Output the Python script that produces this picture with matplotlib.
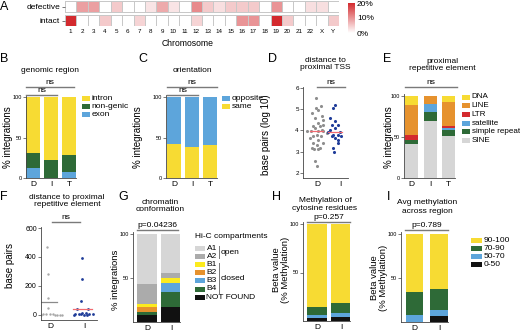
import numpy as np
import matplotlib
matplotlib.use("Agg")
import matplotlib.pyplot as plt
from matplotlib.colors import LinearSegmentedColormap
from matplotlib.patches import Rectangle
from matplotlib.lines import Line2D

plt.rcParams['font.family'] = ['Liberation Sans', 'DejaVu Sans']
plt.rcParams['axes.linewidth'] = 0.6

W, H = 520, 333

# ---- data ----
chromosomes = ['1', '2', '3', '4', '5', '6', '7', '8', '9', '10', '11', '12',
               '13', '14', '15', '16', '17', '18', '19', '20', '21', '22', 'X', 'Y']
defective_pct = [0, 9, 9, 0, 5, 0, 0, 2.5, 8, 2.5, 0, 11,
                 5, 3, 5, 5, 5, 0, 10, 0, 0, 3, 3, 0]
intact_pct = [20, 0, 0, 5, 0, 0, 4, 0, 0, 0, 0, 4,
              0, 0, 0, 10, 10, 0, 20, 5, 0, 0, 0, 5]

groups3 = ['D', 'I', 'T']
groups2 = ['D', 'I']

# B genomic region (bottom -> top)
exon = [12, 0, 8]
non_genic = [19, 22, 20]
intron = [69, 78, 72]

# C orientation
same = [42, 38, 41]
opposite = [58, 62, 59]

# D distance to TSS (log10 bp), x jitter
tss_d = [5.55, 5.15, 5.05, 4.98, 4.82, 4.67, 4.6, 4.5, 4.35, 4.27, 4.2, 4.2, 4.12,
         4.04, 3.96, 3.96, 3.96, 3.96, 3.88, 3.8, 3.73, 3.73, 3.65, 3.57, 3.41,
         3.41, 3.33, 3.18, 3.18, 3.13, 3.13, 2.55, 2.31]
tss_d_jit = [-0.04, 0.16, -0.04, 0.06, -0.2, 0.2, -0.09, 0.28, 0.03, 0.28, -0.19, 0.14, -0.09,
             0.2, -0.42, -0.26, 0.06, 0.28, 0.42, -0.01, -0.16, 0.17, -0.3, 0.06, -0.16,
             0.28, -0.01, -0.23, 0.13, -0.13, 0.03, -0.09, -0.01]
tss_i = [5.2, 5.05, 4.59, 4.43, 4.27, 4.27, 4.12, 4.04, 3.93, 3.93, 3.8, 3.8,
         3.73, 3.73, 3.65, 3.57, 3.41, 3.18, 2.97]
tss_i_jit = [-0.22, -0.29, -0.43, -0.22, -0.36, -0.07, -0.22, -0.43, -0.51, 0.0, -0.29, -0.07,
             -0.36, 0.04, -0.22, -0.07, -0.07, -0.32, -0.26]
tss_median = [3.98, 3.91]

# E proximal repetitive element (bottom -> top)
sine = [42, 70, 51]
simple_repeat = [4, 10, 7]
satellite = [0, 10, 3]
ltr = [6, 0, 3]
line_el = [37, 10, 29]
dna = [11, 0, 7]

# F distance to repetitive element (bp)
rep_d = [471, 283, 120, 50, 8, 6, 5, 4, 3, 3, 2, 2, 1, 1, 0]
rep_d_jit = [-0.09, -0.06, -0.06, -0.06, -0.4, -0.3, -0.2, -0.1, 0.0, 0.1, 0.2, 0.3, -0.25, 0.15, 0.35]
rep_i = [395, 246, 97, 41, 41, 14, 10, 8, 6, 5, 4, 3, 2, 1, 0]
rep_i_jit = [-0.05, -0.07, -0.08, -0.2, 0.12, -0.05, 0.05, -0.15, 0.15, -0.25, 0.25, -0.1, 0.1, 0.0, -0.3]
rep_line = [90, 41]

# G Hi-C compartments (bottom -> top)
not_found = [8, 17]
b4 = [3.5, 17]
b3 = [0, 10]
b2 = [6, 0]
b1 = [3, 6]
a2 = [23, 6]
a1 = [56.5, 44]

# H methylation of cytosine residues
h_0_50 = [3, 4]
h_50_70 = [3.5, 4.5]
h_70_90 = [8, 10]
h_90_100 = [85.5, 81.5]

# I avg methylation across region
i_0_50 = [0, 6.5]
i_50_70 = [7.6, 7]
i_70_90 = [26.7, 24.5]
i_90_100 = [65.7, 62]

YEL = '#F7DB33'
GRN = '#2E6A37'
BLU = '#5DA5DB'
ORA = '#E6922E'
RED = '#D42A2E'
LGR = '#D6D6D6'
BLK = '#111111'

fig = plt.figure(figsize=(5.2, 3.33), dpi=100)


def add_ax(x0, x1, ytop, ybot):
    return fig.add_axes([x0 / W, 1 - ybot / H, (x1 - x0) / W, (ybot - ytop) / H])


def ftext(x, y, s, **kw):
    fig.text(x / W, 1 - y / H, s, **kw)


def bracket(x0, x1, y, label, fs=6):
    fig.add_artist(Line2D([x0 / W, x1 / W], [1 - y / H, 1 - y / H], transform=fig.transFigure,
                          color='#7a7a7a', lw=1.0))
    ftext((x0 + x1) / 2, y - 0.8, label, ha='center', va='bottom', fontsize=fs)


def legend(x, y0, dy, labels, colors, bw=8, bh=5, fs=6):
    for i, (lab, c) in enumerate(zip(labels, colors)):
        y = y0 + i * dy
        fig.add_artist(Rectangle((x / W, 1 - (y + bh / 2) / H), bw / W, bh / H,
                                 transform=fig.transFigure, facecolor=c, edgecolor='none'))
        ftext(x + bw + 1.5, y, lab, ha='left', va='center', fontsize=fs)


def style(ax, ylabsize=4):
    for s in ['top', 'right']:
        ax.spines[s].set_visible(False)
    for s in ['left', 'bottom']:
        ax.spines[s].set_color('#444444')
    ax.tick_params(axis='y', length=2, width=0.5, pad=1, labelsize=ylabsize, colors='#444444',
                   labelcolor='black')
    ax.tick_params(axis='x', length=0, pad=2.5, labelsize=6)


def stacked(ax, cats, layers, colors, width):
    x = np.arange(len(cats))
    bottom = np.zeros(len(cats))
    for vals, c in zip(layers, colors):
        ax.bar(x, vals, width, bottom=bottom, color=c, edgecolor='none')
        bottom += np.array(vals)
    ax.set_xticks(x)
    ax.set_xticklabels(cats)


def bar_axes(x0, x1, y100, y0, xl, ticks):
    scale = (y0 - y100) / 100.0
    ax = add_ax(x0, x1, y0 - 102 * scale, y0)
    ax.set_ylim(0, 102)
    ax.set_xlim(*xl)
    ax.set_yticks(ticks)
    style(ax)
    return ax


# ---- A heatmap ----
cmap = LinearSegmentedColormap.from_list('wr', ['#ffffff', '#D32A2E'])
ax_a = add_ax(65, 339, 1, 26)
cols = np.arange(len(chromosomes) + 1)
mesh = ax_a.pcolormesh(cols, [0, 11], [intact_pct], cmap=cmap, vmin=0, vmax=20,
                       edgecolors='#C8C8C8', linewidth=0.6)
ax_a.pcolormesh(cols, [14, 25], [defective_pct], cmap=cmap, vmin=0, vmax=20,
                edgecolors='#C8C8C8', linewidth=0.6)
ax_a.set_xlim(0, len(chromosomes))
ax_a.set_ylim(0, 25)
ax_a.set_xticks(np.arange(len(chromosomes)) + 0.5)
ax_a.set_xticklabels(chromosomes)
ax_a.set_yticks([5.5, 19.5])
ax_a.set_yticklabels(['intact', 'defective'])
for s in ax_a.spines.values():
    s.set_visible(False)
ax_a.tick_params(axis='x', length=0, pad=2, labelsize=4.5)
ax_a.tick_params(axis='y', length=2, width=0.5, pad=1.5, labelsize=6, colors='#444444',
                 labelcolor='black')
ftext(188, 43, 'Chromosome', ha='center', va='center', fontsize=6.2)

cax = add_ax(348, 355, 3, 33)
cb = fig.colorbar(mesh, cax=cax, ticks=[0, 10, 20])
cb.outline.set_visible(False)
cb.ax.set_yticklabels(['0%', '10%', '20%'])
cb.ax.tick_params(length=0, pad=1.5, labelsize=6)

# ---- B ----
ax_b = bar_axes(26, 76, 97, 178, (-0.39, 2.38), [0, 50, 100])
stacked(ax_b, groups3, [exon, non_genic, intron], [BLU, GRN, YEL], 0.77)
ftext(8, 137, '% integrations', rotation=90, ha='center', va='center', fontsize=7)
ftext(50, 70, 'genomic region', ha='center', va='center', fontsize=6)
bracket(26, 74, 87, 'ns')
bracket(26, 57, 95, 'ns')
legend(82, 98, 8.3, ['intron', 'non-genic', 'exon'], [YEL, GRN, BLU])

# ---- C ----
ax_c = bar_axes(166, 217, 97, 178, (-0.44, 2.39), [0, 50, 100])
stacked(ax_c, groups3, [same, opposite], [YEL, BLU], 0.78)
ftext(138, 137, '% integrations', rotation=90, ha='center', va='center', fontsize=7)
ftext(192, 70, 'orientation', ha='center', va='center', fontsize=6)
bracket(167, 217, 87, 'ns')
bracket(167, 198, 94.5, 'ns')
legend(222, 98, 8.3, ['opposite', 'same'], [BLU, YEL])

# ---- D ----
ax_d = add_ax(303, 348, 87, 178)
ax_d.set_ylim(1.76, 6.05)
ax_d.set_xlim(-0.61, 1.35)
ax_d.scatter(np.array(tss_d_jit), tss_d, s=5, color='#8E8E8E', linewidths=0)
ax_d.scatter(1 + np.array(tss_i_jit), tss_i, s=5, color='#1F3C99', linewidths=0)
ax_d.plot([-0.3, 0.28], [tss_median[0]] * 2, color='#F06A70', lw=0.9)
ax_d.plot([1 - 0.52, 1 + 0.09], [tss_median[1]] * 2, color='#F06A70', lw=0.9)
ax_d.set_yticks([2, 3, 4, 5, 6])
ax_d.set_xticks([0, 1])
ax_d.set_xticklabels(groups2)
style(ax_d, ylabsize=4.5)
ftext(266, 135, 'base pairs (log 10)', rotation=90, ha='center', va='center', fontsize=7)
ftext(325, 64, 'distance to\nproximal TSS', ha='center', va='center', fontsize=6,
      linespacing=1.05)
bracket(317, 345, 87, 'ns')

# ---- E ----
ax_e = bar_axes(404, 455, 96, 178, (-0.41, 2.35), [0, 50, 100])
stacked(ax_e, groups3, [sine, simple_repeat, satellite, ltr, line_el, dna],
        [LGR, GRN, BLU, RED, ORA, YEL], 0.7)
ftext(389, 137, '% integrations', rotation=90, ha='center', va='center', fontsize=7)
ftext(442, 65, 'proximal\nrepetitive element', ha='center', va='center', fontsize=6,
      linespacing=1.15)
bracket(405, 457, 87, 'ns')
legend(462, 97, 8.7, ['DNA', 'LINE', 'LTR', 'satellite', 'simple repeat', 'SINE'],
       [YEL, ORA, RED, BLU, GRN, LGR], fs=5.8)

# ---- F ----
ax_f = add_ax(41, 97, 227.3, 320)
ax_f.set_ylim(-35, 605)
ax_f.set_xlim(-0.26, 1.38)
ax_f.scatter(np.array(rep_d_jit), rep_d, s=3, color='#A8A8A8', linewidths=0)
ax_f.scatter(1 + np.array(rep_i_jit), rep_i, s=4, color='#1F3C99', linewidths=0)
ax_f.plot([-0.35, 0.2], [rep_line[0]] * 2, color='#8A8A8A', lw=0.9)
ax_f.plot([1 - 0.32, 1 + 0.24], [rep_line[1]] * 2, color='#F06A70', lw=0.9)
ax_f.set_yticks([0, 200, 400, 600])
ax_f.set_xticks([0, 1])
ax_f.set_xticklabels(groups2)
style(ax_f, ylabsize=5)
ftext(10, 265, 'base pairs', rotation=90, ha='center', va='center', fontsize=7)
ftext(67, 201, 'distance to proximal\nrepetitive element', ha='center', va='center',
      fontsize=6, linespacing=1.05)
bracket(52, 80, 222, 'ns')

# ---- G ----
ax_g = bar_axes(133, 180, 234, 322, (-0.58, 1.38), [50, 100])
stacked(ax_g, groups2, [not_found, b4, b3, b2, b1, a2, a1],
        [BLK, GRN, BLU, ORA, '#FCEB1E', '#ABABAB', LGR], 0.8)
ftext(116, 280, '% integrations', rotation=90, ha='center', va='center', fontsize=6.8)
ftext(160, 206, 'chromatin\nconformation', ha='center', va='center', fontsize=6,
      linespacing=1.1)
bracket(137, 178, 230, 'p=0.04236')
ftext(195, 237, 'Hi-C compartments', ha='left', va='center', fontsize=6)
legend(195, 248, 8.2, ['A1', 'A2', 'B1', 'B2', 'B3', 'B4', 'NOT FOUND'],
       [LGR, '#ABABAB', '#FCEB1E', ORA, BLU, GRN, BLK], bw=10, fs=6)
fig.add_artist(Line2D([219 / W, 219 / W], [1 - 246 / H, 1 - 258 / H], transform=fig.transFigure,
                      color='#777777', lw=0.7))
fig.add_artist(Line2D([219 / W, 219 / W], [1 - 263 / H, 1 - 293 / H], transform=fig.transFigure,
                      color='#777777', lw=0.7))
ftext(221, 252, 'open', ha='left', va='center', fontsize=6)
ftext(221, 278, 'closed', ha='left', va='center', fontsize=6)

# ---- H ----
ax_h = bar_axes(303, 350, 224, 321, (-0.58, 1.38), [50, 100])
stacked(ax_h, groups2, [h_0_50, h_50_70, h_70_90, h_90_100], [BLK, BLU, GRN, YEL], 0.8)
ftext(281, 270, 'Beta value\n(% Methylation)', rotation=90, ha='center', va='center',
      fontsize=6.8, linespacing=1.05)
ftext(325, 204.5, 'Methylation of\ncytosine residues', ha='center', va='center', fontsize=6,
      linespacing=1.0)
bracket(307, 350, 222, 'p=0.257')

# ---- I ----
ax_i = bar_axes(401, 448, 234, 322, (-0.55, 1.37), [50, 100])
stacked(ax_i, groups2, [i_0_50, i_50_70, i_70_90, i_90_100], [BLK, BLU, GRN, YEL], 0.72)
ftext(379, 278, 'Beta value\n(% Methylation)', rotation=90, ha='center', va='center',
      fontsize=6.8, linespacing=1.05)
ftext(427, 207, 'Avg methylation\nacross region', ha='center', va='center', fontsize=6,
      linespacing=1.3)
bracket(405, 448, 230, 'p=0.789')
legend(471, 240, 8.3, ['90-100', '70-90', '50-70', '0-50'], [YEL, GRN, BLU, BLK], bw=11, fs=6)

# panel letters
for lab, x, y in [('A', 0, 1), ('B', 0, 53), ('C', 138, 53), ('D', 268, 53), ('E', 383, 53),
                  ('F', 0, 191), ('G', 118, 191), ('H', 272, 191), ('I', 387, 191)]:
    ftext(x, y, lab, ha='left', va='top', fontsize=9)

fig.savefig('out.png', dpi=100)
